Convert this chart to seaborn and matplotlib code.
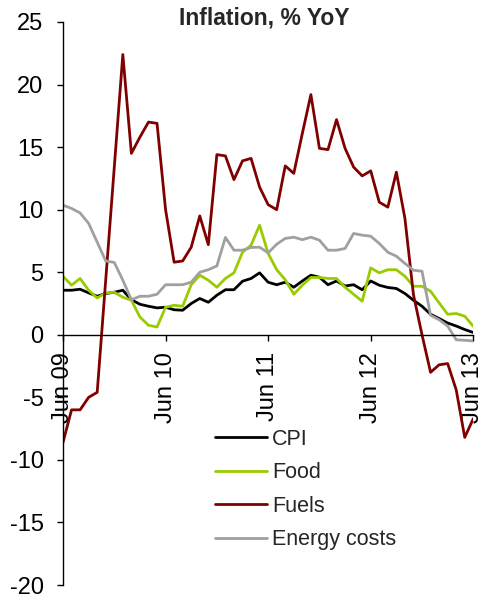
import numpy as np
import pandas as pd
import seaborn as sns
import matplotlib.pyplot as plt

# monthly, Jun 2009 .. Jun 2013
months = list(range(49))
tick_pos = [0, 12, 24, 36, 48]
tick_labels = ['Jun 09', 'Jun 10', 'Jun 11', 'Jun 12', 'Jun 13']

cpi = [3.56, 3.56, 3.64, 3.35, 3.08, 3.3, 3.4, 3.56, 2.8, 2.44,
       2.28, 2.15, 2.2, 2.0, 1.96, 2.5, 2.9, 2.6, 3.16, 3.6,
       3.6, 4.28, 4.5, 4.95, 4.2, 4.0, 4.2, 3.8, 4.3, 4.76,
       4.6, 4.0, 4.3, 3.9, 4.0, 3.6, 4.3, 3.96, 3.78, 3.7,
       3.3, 2.76, 2.28, 1.64, 1.3, 0.94, 0.7, 0.42, 0.18]
food = [4.68, 3.96, 4.5, 3.56, 2.94, 3.35, 3.4, 3.0, 2.76, 1.42,
        0.76, 0.62, 2.2, 2.36, 2.28, 4.0, 4.76, 4.36, 3.8, 4.5,
        4.95, 6.6, 7.16, 8.76, 6.5, 5.2, 4.4, 3.24, 3.96, 4.58,
        4.58, 4.5, 4.5, 3.8, 3.24, 2.68, 5.35, 4.95, 5.2, 5.2,
        4.68, 3.88, 3.88, 3.48, 2.55, 1.64, 1.7, 1.48, 0.68]
fuels = [-8.6, -6.0, -6.0, -5.0, -4.6, 4.4, 13.4, 22.4, 14.5, 15.8,
         17.0, 16.9, 10.0, 5.8, 5.9, 7.0, 9.5, 7.2, 14.4, 14.3,
         12.4, 13.9, 14.1, 11.8, 10.4, 10.0, 13.5, 12.9, 16.1, 19.2,
         14.9, 14.8, 17.2, 14.9, 13.4, 12.7, 13.1, 10.6, 10.2, 13.0,
         9.3, 3.2, 0.0, -3.0, -2.4, -2.3, -4.4, -8.2, -6.7]
energy = [10.36, 10.1, 9.74, 8.9, 7.4, 5.9, 5.78, 4.36, 2.8, 3.08,
          3.08, 3.24, 4.0, 4.0, 4.0, 4.2, 5.0, 5.2, 5.5, 7.78,
          6.76, 6.76, 6.98, 7.0, 6.55, 7.24, 7.7, 7.8, 7.6, 7.8,
          7.56, 6.76, 6.76, 6.9, 8.1, 7.96, 7.88, 7.3, 6.6, 6.28,
          5.7, 5.16, 5.08, 1.56, 1.2, 0.7, -0.4, -0.44, -0.5]

series_names = ['CPI', 'Food', 'Fuels', 'Energy costs']
colors = ['#000000', '#99CC00', '#800000', '#A0A0A0']

df = pd.concat([
    pd.DataFrame({'month': months, 'value': vals, 'series': name})
    for name, vals in zip(series_names, [cpi, food, fuels, energy])
])

sns.set_theme(style='ticks')
plt.rcParams['font.family'] = ['Liberation Sans', 'DejaVu Sans']
plt.rcParams['axes.unicode_minus'] = False

fig = plt.figure(figsize=(4.83, 5.94), dpi=100)
ax = fig.add_axes([63 / 483, 9 / 594, 410.3 / 483, 563 / 594])

sns.lineplot(data=df, x='month', y='value', hue='series', hue_order=series_names,
             palette=colors, linewidth=2, ax=ax)

ax.set_xlim(0, 48)
ax.set_ylim(-20, 25)
ax.set_yticks(np.arange(-20, 26, 5))
ax.set_xticks(tick_pos)
ax.set_xticklabels(tick_labels)
ax.set_xlabel('')
ax.set_ylabel('')

ax.spines['top'].set_visible(False)
ax.spines['right'].set_visible(False)
ax.spines['bottom'].set_position(('data', 0))
for s in ['left', 'bottom']:
    ax.spines[s].set_color('black')
    ax.spines[s].set_linewidth(1)

ax.tick_params(axis='y', direction='out', length=4.5, width=1, pad=9.5, labelsize=17, colors='black')
ax.tick_params(axis='x', direction='out', length=4.5, width=1, pad=8, labelsize=17, colors='black',
               labelrotation=90)
plt.setp(ax.get_xticklabels(), va='top', ha='center')

sns.move_legend(ax, 'upper left', bbox_to_anchor=(0.445, 0.278), bbox_transform=fig.transFigure,
                frameon=False, title=None, fontsize=15.5, handlelength=2.4,
                handletextpad=0.25, labelspacing=0.58, borderpad=0, borderaxespad=0)
for h in ax.get_legend().legend_handles:
    h.set_linewidth(2)

fig.text(0.547, 0.9705, 'Inflation, % YoY', ha='center', va='center',
         fontsize=16.5, fontweight='bold')

fig.savefig('out.png', dpi=100)
